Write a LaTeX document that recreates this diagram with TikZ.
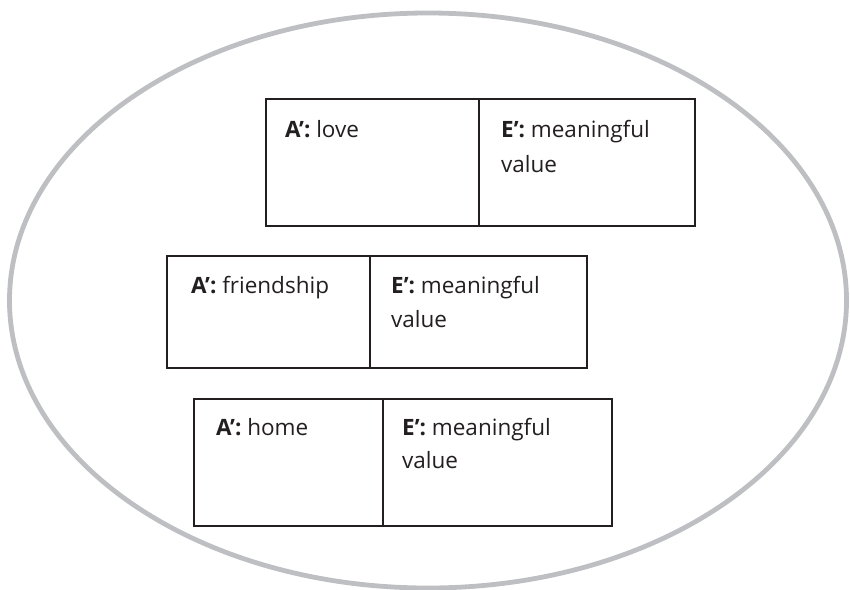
\documentclass[tikz,border=0pt]{standalone}
\usepackage{fontspec}
\setmainfont{Open Sans}
\usetikzlibrary{shapes.geometric}
\definecolor{rimgray}{RGB}{190,191,194}
\definecolor{inkline}{RGB}{35,31,32}
\begin{document}
\begin{tikzpicture}[x=1pt,y=-1pt,
  cell/.style={draw=inkline, line width=2pt, rectangle, anchor=north west, inner sep=0pt},
  lbl/.style={anchor=base west, inner sep=0pt, font=\fontsize{22.5}{26}\selectfont, text=inkline}]
\useasboundingbox (0,0) rectangle (850,589);
% enclosing ellipse
\node[draw=rimgray, line width=4.8pt, ellipse, minimum width=837pt, minimum height=575pt, inner sep=0pt] (rim) at (428,300.5) {};

% first pair: love
\node[cell, minimum width=213pt, minimum height=127pt] (a1) at (265,98) {};
\node[cell, minimum width=216pt, minimum height=127pt] (e1) at (478,98) {};
\node[lbl] (ta1) at (285,137) {\textbf{A’:} love};
\node[lbl] (te1) at (501,137) {\textbf{E’:} meaningful};
\node[lbl] (tv1) at (501,172.5) {value};

% second pair: friendship
\node[cell, minimum width=203pt, minimum height=112pt] (a2) at (166,255) {};
\node[cell, minimum width=217pt, minimum height=112pt] (e2) at (369,255) {};
\node[lbl] (ta2) at (191,293) {\textbf{A’:} friendship};
\node[lbl] (te2) at (391,293) {\textbf{E’:} meaningful};
\node[lbl] (tv2) at (391,327.5) {value};

% third pair: home
\node[cell, minimum width=189pt, minimum height=127pt] (a3) at (193,398) {};
\node[cell, minimum width=229pt, minimum height=127pt] (e3) at (382,398) {};
\node[lbl] (ta3) at (216,435) {\textbf{A’:} home};
\node[lbl] (te3) at (402,435) {\textbf{E’:} meaningful};
\node[lbl] (tv3) at (402,468.5) {value};
\end{tikzpicture}
\end{document}
